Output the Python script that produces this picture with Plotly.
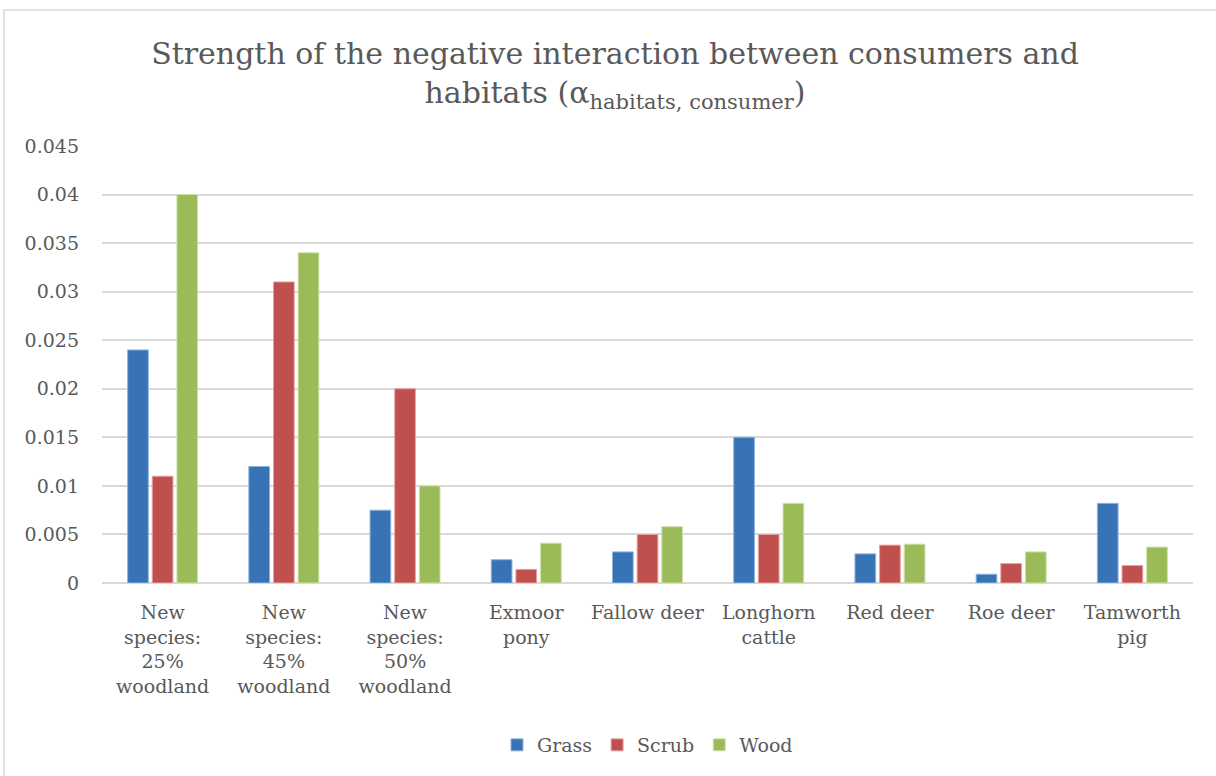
import plotly.graph_objects as go

categories = [
    "New<br>species:<br>25%<br>woodland",
    "New<br>species:<br>45%<br>woodland",
    "New<br>species:<br>50%<br>woodland",
    "Exmoor<br>pony",
    "Fallow deer",
    "Longhorn<br>cattle",
    "Red deer",
    "Roe deer",
    "Tamworth<br>pig",
]
grass = [0.024, 0.012, 0.0075, 0.0024, 0.0032, 0.015, 0.003, 0.0009, 0.0082]
scrub = [0.011, 0.031, 0.020, 0.0014, 0.005, 0.005, 0.0039, 0.002, 0.0018]
wood = [0.040, 0.034, 0.010, 0.0041, 0.0058, 0.0082, 0.004, 0.0032, 0.0037]

y_ticks = [0, 0.005, 0.01, 0.015, 0.02, 0.025, 0.03, 0.035, 0.04, 0.045]
y_tick_text = ["0", "0.005", "0.01", "0.015", "0.02", "0.025", "0.03", "0.035", "0.04", "0.045"]

FONT = "DejaVu Serif"
TEXT = "#595959"

series = [
    ("Grass", grass, "#3873b6", "#8fb3de"),
    ("Scrub", scrub, "#c0504d", "#e4a3a1"),
    ("Wood", wood, "#9bbb59", "#cfe0ad"),
]

fig = go.Figure()
for name, vals, color, edge in series:
    fig.add_trace(go.Bar(
        x=categories, y=vals, name=name,
        marker=dict(color=color, line=dict(color=edge, width=1)),
    ))

W, H = 1216, 776
L, R, T, B = 102, 23, 146, 193
pw, ph = W - L - R, H - T - B

fig.update_layout(
    width=W, height=H,
    margin=dict(l=L, r=R, t=T, b=B),
    paper_bgcolor="white", plot_bgcolor="white",
    font=dict(family=FONT, color=TEXT, size=19),
    barmode="group", bargap=0.39, bargroupgap=0.16,
    title=dict(
        text="Strength of the negative interaction between consumers and<br>"
             "habitats (α<sub>habitats, consumer</sub>)",
        x=615 / W, xref="container", xanchor="center",
        y=1 - 64 / H, yref="container", yanchor="middle",
        font=dict(family=FONT, size=30, color=TEXT),
    ),
    xaxis=dict(
        showgrid=False, showline=False, ticks="",
        tickfont=dict(size=19, color=TEXT), ticklabelstandoff=16,
        tickangle=0,
    ),
    yaxis=dict(
        range=[0, 0.045], tickvals=y_ticks, ticktext=y_tick_text,
        showgrid=True, gridcolor="#d9d9d9", gridwidth=1.5,
        zeroline=True, zerolinecolor="#d9d9d9", zerolinewidth=1.5,
        showline=False, ticks="", ticklabelstandoff=22,
        tickfont=dict(size=19, color=TEXT),
    ),
    legend=dict(
        orientation="h", x=0.5, xanchor="center",
        y=(583 - 745) / ph, yanchor="middle",
        font=dict(size=19, color=TEXT), itemwidth=30,
        traceorder="normal", tracegroupgap=0,
    ),
    shapes=[dict(
        type="rect", xref="paper", yref="paper",
        x0=(4 - L) / pw, x1=(1230 - L) / pw,
        y0=(583 - 790) / ph, y1=(583 - 10) / ph,
        line=dict(color="#d9d9d9", width=1.5), layer="below",
    )],
)

fig.write_html("out.html")
